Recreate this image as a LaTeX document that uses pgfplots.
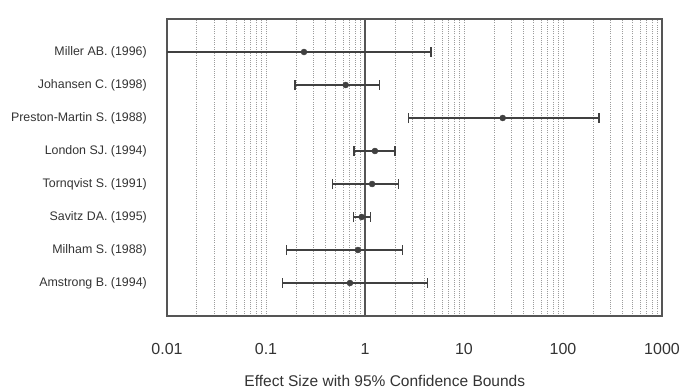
\documentclass[border=0pt]{standalone}
\usepackage{pgfplots}
\pgfplotsset{compat=1.18}
\usepackage{pgfplotstable}
\usepackage{fontspec}
\setmainfont{Liberation Sans}
\definecolor{ink}{HTML}{404040}
\definecolor{txt}{HTML}{333333}
\definecolor{frame}{HTML}{555555}
\definecolor{gridc}{HTML}{9C9C9C}
\pgfplotstableread{
y lo est hi
8 0.004 0.242 4.64
7 0.196 0.638 1.40
6 2.74 24.6 231
5 0.774 1.26 2.01
4 0.472 1.18 2.19
3 0.762 0.925 1.13
2 0.162 0.849 2.38
1 0.146 0.705 4.30
}\studies
\begin{document}
\begin{tikzpicture}
\useasboundingbox (-167pt,-74pt) rectangle (517pt,316pt);
\begin{axis}[
  at={(0,0)}, anchor=south west,
  scale only axis, width=495pt, height=297pt,
  xmode=log, xmin=0.01, xmax=1000,
  ymin=0, ymax=9,
  xtick={0.01,0.1,1,10,100,1000},
  xticklabels={0.01,0.1,1,10,100,1000},
  ytick={1,2,3,4,5,6,7,8},
  yticklabels={Amstrong B. (1994),Milham S. (1988),Savitz DA. (1995),Tornqvist S. (1991),London SJ. (1994),Preston-Martin S. (1988),Johansen C. (1998),Miller AB. (1996)},
  major tick length=0pt, minor tick length=0pt,
  ymajorgrids=false, xmajorgrids=true, xminorgrids=true,
  grid style={gridc, line width=0.6pt, dash pattern=on 1pt off 1.2pt},
  minor grid style={gridc, line width=0.6pt, dash pattern=on 1pt off 1.2pt},
  axis line style={frame, line width=1.1pt},
  xticklabel style={font=\fontsize{16}{18}\selectfont, text=txt, inner sep=0pt, yshift=-27pt},
  yticklabel style={font=\fontsize{12.4}{14}\selectfont, text=txt, inner sep=0pt, xshift=-20pt, anchor=east},
  xlabel={Effect Size with 95\% Confidence Bounds},
  xlabel style={at={(axis description cs:0.44,0)}, anchor=center, yshift=-65pt, font=\fontsize{15.5}{18}\selectfont, text=txt},
  /pgf/number format/assume math mode=true,
]
\addplot[frame, line width=1.5pt] coordinates {(1,0) (1,9)};
\addplot[only marks, mark=*, mark size=3pt, mark options={fill=ink, draw=ink}, color=ink,
  error bars/.cd, x dir=both, x explicit,
  error bar style={ink, line width=1.3pt},
  error mark options={ink, line width=1.3pt, mark size=5pt, rotate=90}]
  table[x=est, y=y, x error plus expr=\thisrow{hi}-\thisrow{est}, x error minus expr=\thisrow{est}-\thisrow{lo}] {\studies};
\end{axis}
\end{tikzpicture}
\end{document}
